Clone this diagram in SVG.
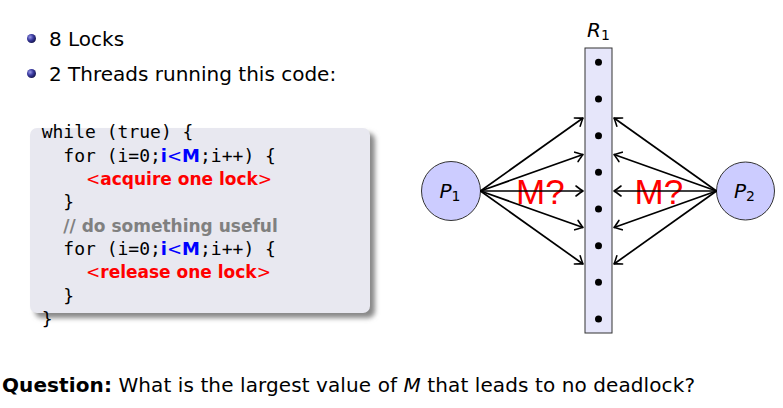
<svg xmlns="http://www.w3.org/2000/svg" width="783" height="408" viewBox="0 0 783 408">
<style>
.txt{font-family:"DejaVu Sans",sans-serif;font-size:20px;fill:#000}
.code{font-family:"DejaVu Sans Mono","Liberation Mono",monospace;font-size:18px;fill:#000}
.kw{font-family:"DejaVu Sans",sans-serif;font-weight:bold;fill:#0000ff;font-size:18px}
.red{font-family:"DejaVu Sans",sans-serif;font-weight:bold;fill:#ff0000;font-size:17px}
.br{font-weight:normal}
.cmt{font-family:"DejaVu Sans",sans-serif;font-weight:bold;fill:#808080;font-size:17px}
.math{font-family:"DejaVu Sans",sans-serif;font-style:italic;font-size:20px;fill:#000}
.sub{font-style:normal;font-size:14px}
.mq{font-family:"Liberation Sans",sans-serif;font-size:35px;fill:#ff0000}
.arr{stroke:#000;stroke-width:1.7;fill:none;marker-end:url(#ah)}
.proc{fill:#ccccff;stroke:#333;stroke-width:1}
</style>
<defs>
<radialGradient id="ball" cx="0.35" cy="0.35" r="0.7">
<stop offset="0" stop-color="#9a9ae6"/>
<stop offset="0.5" stop-color="#3a3aa0"/>
<stop offset="1" stop-color="#14144a"/>
</radialGradient>
<filter id="blur" x="-10%" y="-10%" width="120%" height="120%">
<feGaussianBlur stdDeviation="2.5"/>
</filter>
<marker id="ah" markerWidth="14" markerHeight="14" refX="0" refY="0" viewBox="-10 -7 12 14" orient="auto" markerUnits="userSpaceOnUse">
<path d="M-7,-5 Q-2,-1.2 0,0 Q-2,1.2 -7,5" fill="none" stroke="#000" stroke-width="1.6" stroke-linecap="round" stroke-linejoin="round"/>
</marker>
</defs>

<g id="bullets">
<circle cx="31.5" cy="38.5" r="4.5" fill="url(#ball)"/>
<text class="txt" x="49" y="45.5">8 Locks</text>
<circle cx="31.5" cy="73.5" r="4.5" fill="url(#ball)"/>
<text class="txt" x="49" y="80.5">2 Threads running this code:</text>
</g>

<g id="codebox">
<rect x="35" y="133" width="340" height="185" rx="7" fill="#888" filter="url(#blur)"/>
<rect x="30" y="128" width="340" height="185" rx="7" fill="#e8e8f0"/>
<text class="code" x="41.7" y="138">while (true) {</text>
<text class="code" x="63.3" y="161.5">for (i=0;<tspan class="kw">i<tspan class="br">&lt;</tspan>M</tspan>;i++) {</text>
<text class="red" x="86" y="185"><tspan class="br">&lt;</tspan>acquire one lock<tspan class="br">&gt;</tspan></text>
<text class="code" x="63.3" y="208">}</text>
<text class="cmt" x="63.3" y="231.5">// do something useful</text>
<text class="code" x="63.3" y="255">for (i=0;<tspan class="kw">i<tspan class="br">&lt;</tspan>M</tspan>;i++) {</text>
<text class="red" x="86" y="278"><tspan class="br">&lt;</tspan>release one lock<tspan class="br">&gt;</tspan></text>
<text class="code" x="63.3" y="301.5">}</text>
<text class="code" x="41.7" y="325">}</text>
</g>

<g id="R1">
<rect x="585" y="48" width="27" height="285" fill="#e6e6fa" stroke="#333" stroke-width="1"/>
<text class="math" x="587" y="37">R<tspan class="sub" dy="3">1</tspan></text>
<g fill="#000">
<circle cx="598.5" cy="62.3" r="3.5"/>
<circle cx="598.5" cy="99" r="3.5"/>
<circle cx="598.5" cy="135.7" r="3.5"/>
<circle cx="598.5" cy="172.3" r="3.5"/>
<circle cx="598.5" cy="209" r="3.5"/>
<circle cx="598.5" cy="245.7" r="3.5"/>
<circle cx="598.5" cy="282.3" r="3.5"/>
<circle cx="598.5" cy="319" r="3.5"/>
</g>
</g>

<g id="P1">
<circle class="proc" cx="451" cy="191" r="29.5"/>
<text class="math" x="439.5" y="198">P<tspan class="sub" dy="3">1</tspan></text>
</g>

<g id="P2">
<circle class="proc" cx="745.5" cy="191" r="29"/>
<text class="math" x="734" y="198">P<tspan class="sub" dy="3">2</tspan></text>
</g>

<g id="labels">
<text class="mq" x="516" y="204.3">M?</text>
<text class="mq" x="634.5" y="204.3">M?</text>
</g>

<g id="connectors">
<line class="arr" x1="480.5" y1="191" x2="583" y2="118"/>
<line class="arr" x1="480.5" y1="191" x2="583" y2="154.5"/>
<line class="arr" x1="480.5" y1="191" x2="583" y2="191"/>
<line class="arr" x1="480.5" y1="191" x2="583" y2="227.5"/>
<line class="arr" x1="480.5" y1="191" x2="583" y2="264"/>
<line class="arr" x1="716.5" y1="191" x2="614" y2="118"/>
<line class="arr" x1="716.5" y1="191" x2="614" y2="154.5"/>
<line class="arr" x1="716.5" y1="191" x2="614" y2="191"/>
<line class="arr" x1="716.5" y1="191" x2="614" y2="227.5"/>
<line class="arr" x1="716.5" y1="191" x2="614" y2="264"/>
</g>

<g id="question">
<text class="txt" x="2" y="392" textLength="693"><tspan font-weight="bold">Question:</tspan> What is the largest value of <tspan font-style="italic">M</tspan> that leads to no deadlock?</text>
</g>
</svg>
